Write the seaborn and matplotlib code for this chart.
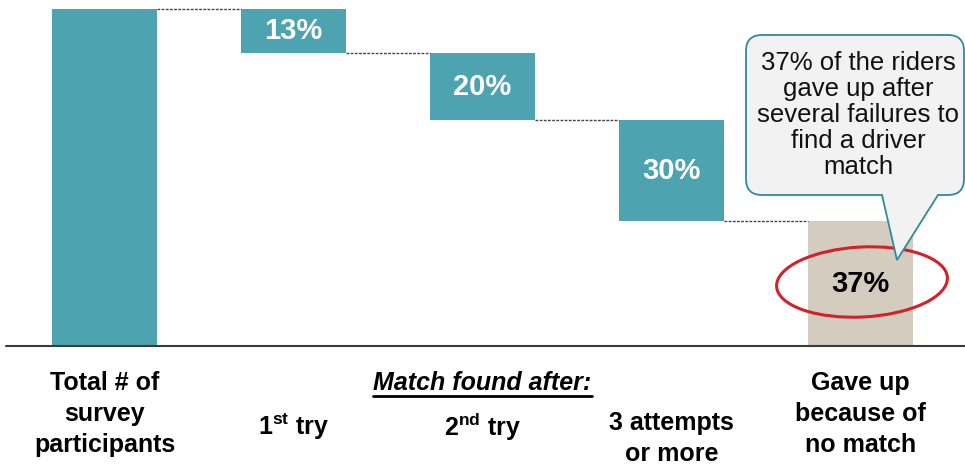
"""Waterfall of ride-share match attempts, with a callout on the gave-up share."""

import matplotlib

matplotlib.use("Agg")

import matplotlib.pyplot as plt  # noqa: E402
import matplotlib.transforms as mtransforms  # noqa: E402
import seaborn as sns  # noqa: E402
from matplotlib.patches import Ellipse, PathPatch  # noqa: E402
from matplotlib.path import Path  # noqa: E402

# Data
categories = [
    "Total # of\nsurvey\nparticipants",
    "1$^{\\bf st}$ try",
    "2$^{\\bf nd}$ try",
    "3 attempts\nor more",
    "Gave up\nbecause of\nno match",
]
shares = [100, 13, 20, 30, 37]
bar_labels = ["", "13%", "20%", "30%", "37%"]
group_title = "Match found after:"
callout_text = "37% of the riders\ngave up after\nseveral failures to\nfind a driver\nmatch"

TEAL = "#4EA3B0"
BEIGE = "#D3CCBF"
RED = "#D3212B"

# Waterfall: first bar is the total, the rest step down from it
tops = [shares[0]] + [shares[0] - sum(shares[1:i]) for i in range(1, len(shares))]
bottoms = [0] + [t - v for t, v in zip(tops[1:], shares[1:])]

sns.set_theme(style="white")
plt.rcParams["font.family"] = ["Liberation Sans", "DejaVu Sans"]
plt.rcParams["mathtext.fontset"] = "custom"
plt.rcParams["mathtext.rm"] = "Liberation Sans"
plt.rcParams["mathtext.bf"] = "Liberation Sans:bold"

W, H = 965, 466
fig = plt.figure(figsize=(W / 100, H / 100), dpi=100)
ax = fig.add_axes([0, 0, 1, 1])

sns.barplot(
    x=categories,
    y=shares,
    bottom=bottoms,
    width=0.56,
    color=TEAL,
    linewidth=0,
    saturation=1,
    ax=ax,
)

# pixel transform (origin top-left, y down) for annotation shapes
pix = mtransforms.Affine2D().scale(1 / W, -1 / H).translate(0, 1) + fig.transFigure

ax.set_xlim(-0.553, 4.553)
ax.set_ylim(-35.6, 102.7)
ax.axis("off")

patches = ax.patches[: len(shares)]
patches[-1].set_facecolor(BEIGE)

# value labels
for p, lab in zip(patches, bar_labels):
    if not lab:
        continue
    cx = p.get_x() + p.get_width() / 2
    cy = p.get_y() + p.get_height() / 2
    col = "black" if p is patches[-1] else "white"
    ax.text(cx, cy, lab, ha="center", va="center", color=col,
            fontsize=21, fontweight="bold")

# dashed connectors between steps
for a, b in zip(patches[:-1], patches[1:]):
    y = b.get_y() + b.get_height()
    ax.plot([a.get_x() + a.get_width(), b.get_x()], [y, y],
            color="#444444", lw=1, ls=(0, (2, 1)))

# baseline
ax.axhline(0, xmin=6 / W, xmax=1, color="#3A3A3A", lw=1.5)

# category labels below the axis
lab_tr = mtransforms.blended_transform_factory(ax.transData, pix)
for i, lab in enumerate(categories):
    n = lab.count("\n") + 1
    top = 371 if n == 3 else 411
    ax.text(i, top, lab, transform=lab_tr, ha="center", va="top",
            fontsize=18, fontweight="bold", linespacing=1.36, color="black")

title = ax.text(2, 383, group_title, transform=lab_tr, ha="center",
                va="center", fontsize=18, fontweight="bold", style="italic",
                color="black")
fig.canvas.draw()
bb = title.get_window_extent()
ax.plot([bb.x0, bb.x1], [bb.y0 - 1, bb.y0 - 1], transform=None,
        color="black", lw=2)

# red ellipse around the gave-up share
ax.add_patch(Ellipse((862, 282), 171, 70, angle=-3, transform=pix,
                     fill=False, edgecolor=RED, lw=2.2, zorder=5))

# speech bubble callout
L, R, T, B, r = 746, 964, 35, 195, 16
bx1, bx2, tip = 882, 938, (897, 260)
verts = [
    (L + r, T), (R - r, T), (R, T), (R, T + r),
    (R, B - r), (R, B), (R - r, B),
    (bx2, B), tip, (bx1, B),
    (L + r, B), (L, B), (L, B - r),
    (L, T + r), (L, T), (L + r, T), (L + r, T),
]
codes = [
    Path.MOVETO, Path.LINETO, Path.CURVE3, Path.CURVE3,
    Path.LINETO, Path.CURVE3, Path.CURVE3,
    Path.LINETO, Path.LINETO, Path.LINETO,
    Path.LINETO, Path.CURVE3, Path.CURVE3,
    Path.LINETO, Path.CURVE3, Path.CURVE3, Path.CLOSEPOLY,
]
ax.add_patch(PathPatch(Path(verts, codes), transform=pix, facecolor="#F2F2F2",
                       edgecolor="#2E8B9B", lw=1.3, zorder=6, clip_on=False))
ax.text(858, 115, callout_text, transform=pix, ha="center", va="center",
        fontsize=18.5, color="#111111", linespacing=1.11, zorder=7)

fig.savefig("out.png", dpi=100)
plt.close(fig)
